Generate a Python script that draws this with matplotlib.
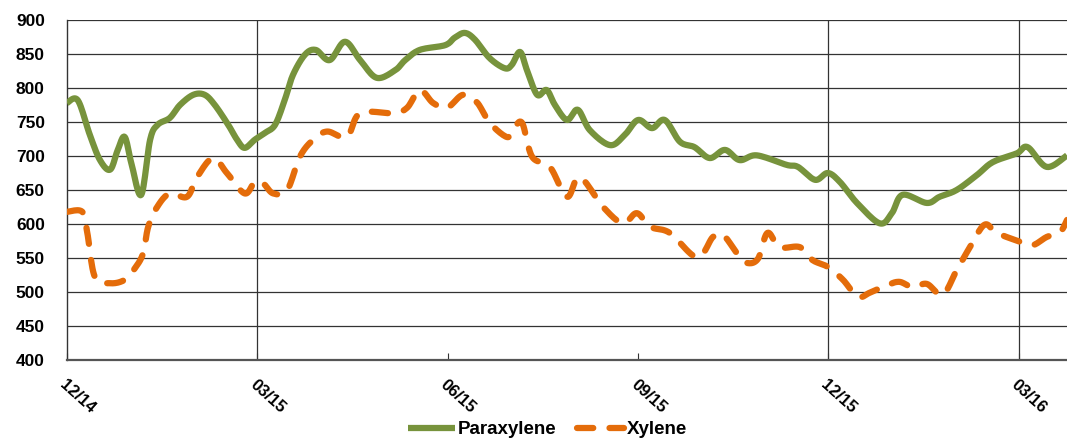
import matplotlib
matplotlib.use("Agg")
import matplotlib.pyplot as plt
import numpy as np

# months since 12/14 and price values
para_months = [0.00, 0.17, 0.36, 0.52, 0.68, 0.80, 0.91, 1.02, 1.17, 1.31, 1.43, 1.62, 1.78,
               1.99, 2.17, 2.33, 2.54, 2.68, 2.80, 2.96, 3.12, 3.28, 3.43, 3.56, 3.75, 3.92,
               4.14, 4.38, 4.62, 4.88, 5.17, 5.33, 5.56, 5.96, 6.11, 6.27, 6.43, 6.66, 6.90,
               7.01, 7.14, 7.25, 7.41, 7.56, 7.69, 7.88, 8.05, 8.24, 8.56, 8.79, 9.00, 9.22,
               9.42, 9.66, 9.89, 10.13, 10.37, 10.60, 10.87, 11.34, 11.52, 11.79, 11.99, 12.18,
               12.45, 12.81, 13.00, 13.17, 13.55, 13.75, 14.02, 14.34, 14.59, 14.97, 15.14,
               15.44, 15.76]
para_values = [778, 782, 731, 694, 680, 709, 728, 687, 643, 724, 746, 756, 775,
               790, 790, 775, 746, 724, 712, 724, 734, 746, 782, 819, 849, 856,
               841, 868, 841, 815, 826, 841, 856, 863, 874, 881, 871, 844, 829,
               834, 853, 826, 790, 797, 775, 753, 768, 738, 716, 731, 753, 741,
               753, 721, 713, 697, 709, 694, 701, 687, 684, 665, 675, 662,
               631, 601, 616, 643, 631, 640, 650, 672, 691, 704, 713,
               684, 701]

xyl_months = [0.00, 0.24, 0.32, 0.44, 0.68, 0.91, 1.07, 1.20, 1.28, 1.42, 1.62, 1.89, 2.05,
              2.30, 2.52, 2.80, 2.96, 3.09, 3.25, 3.47, 3.67, 3.88, 4.10, 4.41, 4.62, 5.14,
              5.36, 5.56, 5.77, 5.99, 6.24, 6.46, 6.66, 6.93, 7.03, 7.17, 7.33, 7.61, 7.88,
              8.08, 8.45, 8.76, 8.98, 9.19, 9.50, 9.93, 10.18, 10.34, 10.56, 10.71, 10.89,
              11.04, 11.23, 11.55, 11.75, 11.99, 12.23, 12.46, 12.65, 12.92, 13.12, 13.33,
              13.55, 13.80, 14.02, 14.23, 14.46, 14.65, 15.02, 15.22, 15.44, 15.65, 15.76]
xyl_values = [618, 618, 587, 522, 513, 518, 535, 557, 596, 625, 645, 640, 669,
              697, 675, 645, 662, 660, 645, 650, 699, 724, 736, 728, 763, 763,
              771, 797, 778, 771, 790, 779, 749, 728, 738, 749, 699, 684, 640,
              669, 625, 601, 616, 596, 587, 551, 581, 584, 557, 543, 549,
              587, 566, 566, 547, 537, 518, 493, 499, 510, 515, 507,
              512, 496, 532, 566, 599, 587, 574, 569, 581, 588, 606]

tick_pos = [0, 3, 6, 9, 12, 15]
tick_labels = ["12/14", "03/15", "06/15", "09/15", "12/15", "03/16"]
vlines = [3, 12, 15]


def smooth(xs, ys, n=12):
    # Catmull-Rom curve through the points, like a smoothed Excel line
    x = np.asarray(xs, float)
    y = np.asarray(ys, float)
    px = np.concatenate([[x[0]], x, [x[-1]]])
    py = np.concatenate([[y[0]], y, [y[-1]]])
    t = np.linspace(0, 1, n, endpoint=False)
    ox, oy = [], []
    for i in range(1, len(px) - 2):
        for arr, out in ((px, ox), (py, oy)):
            p0, p1, p2, p3 = arr[i - 1], arr[i], arr[i + 1], arr[i + 2]
            out.extend(0.5 * (2 * p1 + (-p0 + p2) * t + (2 * p0 - 5 * p1 + 4 * p2 - p3) * t ** 2
                              + (-p0 + 3 * p1 - 3 * p2 + p3) * t ** 3))
    ox.append(x[-1])
    oy.append(y[-1])
    return ox, oy


fig = plt.figure(figsize=(10.67, 4.44), dpi=100)
ax = fig.add_axes([0.0628, 0.189, 0.9372, 0.766])

for y in range(450, 901, 50):
    ax.axhline(y, color="#333333", lw=0.9, zorder=1)
for v in vlines:
    ax.axvline(v, color="#333333", lw=0.9, zorder=1)

sx, sy = smooth(para_months, para_values)
ax.plot(sx, sy, color="#77933C", lw=4.5, solid_joinstyle="round",
        solid_capstyle="butt", label="Paraxylene", zorder=3)
sx, sy = smooth(xyl_months, xyl_values)
ax.plot(sx, sy, color="#E46C0A", lw=4.5, dashes=(2.6, 2.6),
        dash_capstyle="round", label="Xylene", zorder=3)

ax.set_xlim(0, 15.76)
ax.set_ylim(400, 900)
ax.set_yticks(range(400, 901, 50))
ax.set_yticklabels([str(v) for v in range(400, 901, 50)], fontsize=12.5,
                   fontweight="bold", family="Liberation Sans")
ax.set_xticks(tick_pos)
ax.set_xticklabels(tick_labels, rotation=-42, ha="left", rotation_mode="anchor",
                   fontsize=12, fontweight="bold", family="Liberation Sans")
ax.tick_params(axis="y", length=0, pad=16)
ax.tick_params(axis="x", direction="in", length=5, color="#333333", pad=12)

for s in ["top", "right"]:
    ax.spines[s].set_visible(False)
ax.spines["left"].set_color("#333333")
ax.spines["left"].set_linewidth(1.0)
ax.spines["bottom"].set_color("#555555")
ax.spines["bottom"].set_linewidth(1.6)

fig.legend(loc="lower center", bbox_to_anchor=(0.513, -0.025), ncol=2, frameon=False,
           handlelength=2.5, handletextpad=0.15, columnspacing=1.1,
           prop={"family": "Liberation Sans", "weight": "bold", "size": 13.5})

fig.savefig("out.png", dpi=100)
